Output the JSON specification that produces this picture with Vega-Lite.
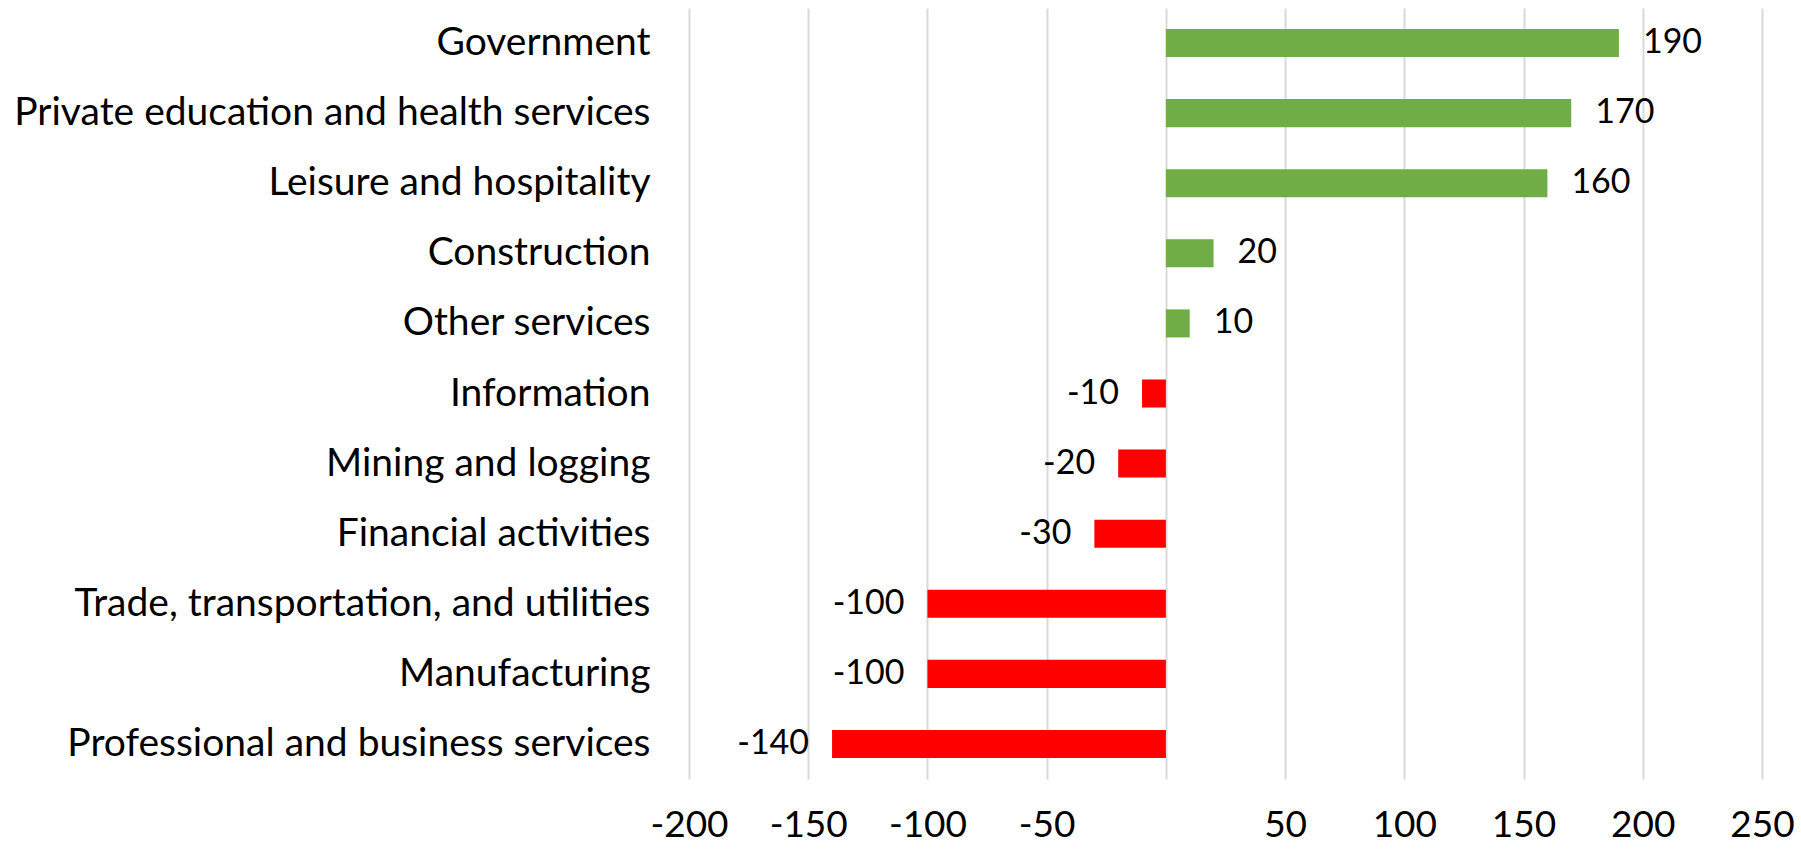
{
  "$schema": "https://vega.github.io/schema/vega-lite/v6.json",
  "autosize": {"type": "none"},
  "width": 1073,
  "height": 771,
  "padding": {"left": 689, "top": 8, "right": 39, "bottom": 70},
  "background": "white",
  "config": {"view": {"stroke": null}, "font": "Lato"},
  "data": {
    "values": [
      {"sector": "Government", "value": 190},
      {"sector": "Private education and health services", "value": 170},
      {"sector": "Leisure and hospitality", "value": 160},
      {"sector": "Construction", "value": 20},
      {"sector": "Other services", "value": 10},
      {"sector": "Information", "value": -10},
      {"sector": "Mining and logging", "value": -20},
      {"sector": "Financial activities", "value": -30},
      {"sector": "Trade, transportation, and utilities", "value": -100},
      {"sector": "Manufacturing", "value": -100},
      {"sector": "Professional and business services", "value": -140}
    ]
  },
  "encoding": {
    "y": {
      "field": "sector",
      "type": "nominal",
      "sort": null,
      "title": null,
      "scale": {"paddingInner": 0.6, "paddingOuter": 0.3},
      "axis": {
        "domain": false,
        "ticks": false,
        "grid": false,
        "labelFontSize": 39,
        "labelColor": "#000000",
        "labelPadding": 39,
        "labelLimit": 1000
      }
    }
  },
  "layer": [
    {
      "mark": {"type": "bar"},
      "encoding": {
        "x": {
          "field": "value",
          "type": "quantitative",
          "title": null,
          "scale": {"domain": [-200, 250], "nice": false},
          "axis": {
            "values": [-200, -150, -100, -50, 0, 50, 100, 150, 200, 250],
            "labelExpr": "datum.value == 0 ? '' : '' + datum.value",
            "grid": true,
            "gridColor": "#d9d9d9",
            "gridWidth": 2,
            "domain": false,
            "ticks": false,
            "labelFontSize": 37,
            "labelColor": "#000000",
            "labelPadding": 28,
            "labelFlush": false
          }
        },
        "color": {
          "condition": {"test": "datum.value < 0", "value": "#FF0000"},
          "value": "#70AD47"
        }
      }
    },
    {
      "transform": [{"filter": "datum.value >= 0"}],
      "mark": {"type": "text", "align": "left", "baseline": "middle", "dx": 24, "fontSize": 34, "color": "#000000"},
      "encoding": {
        "x": {"field": "value", "type": "quantitative"},
        "text": {"field": "value", "type": "nominal"}
      }
    },
    {
      "transform": [{"filter": "datum.value < 0"}],
      "mark": {"type": "text", "align": "right", "baseline": "middle", "dx": -23, "fontSize": 34, "color": "#000000"},
      "encoding": {
        "x": {"field": "value", "type": "quantitative"},
        "text": {"field": "value", "type": "nominal"}
      }
    }
  ]
}
